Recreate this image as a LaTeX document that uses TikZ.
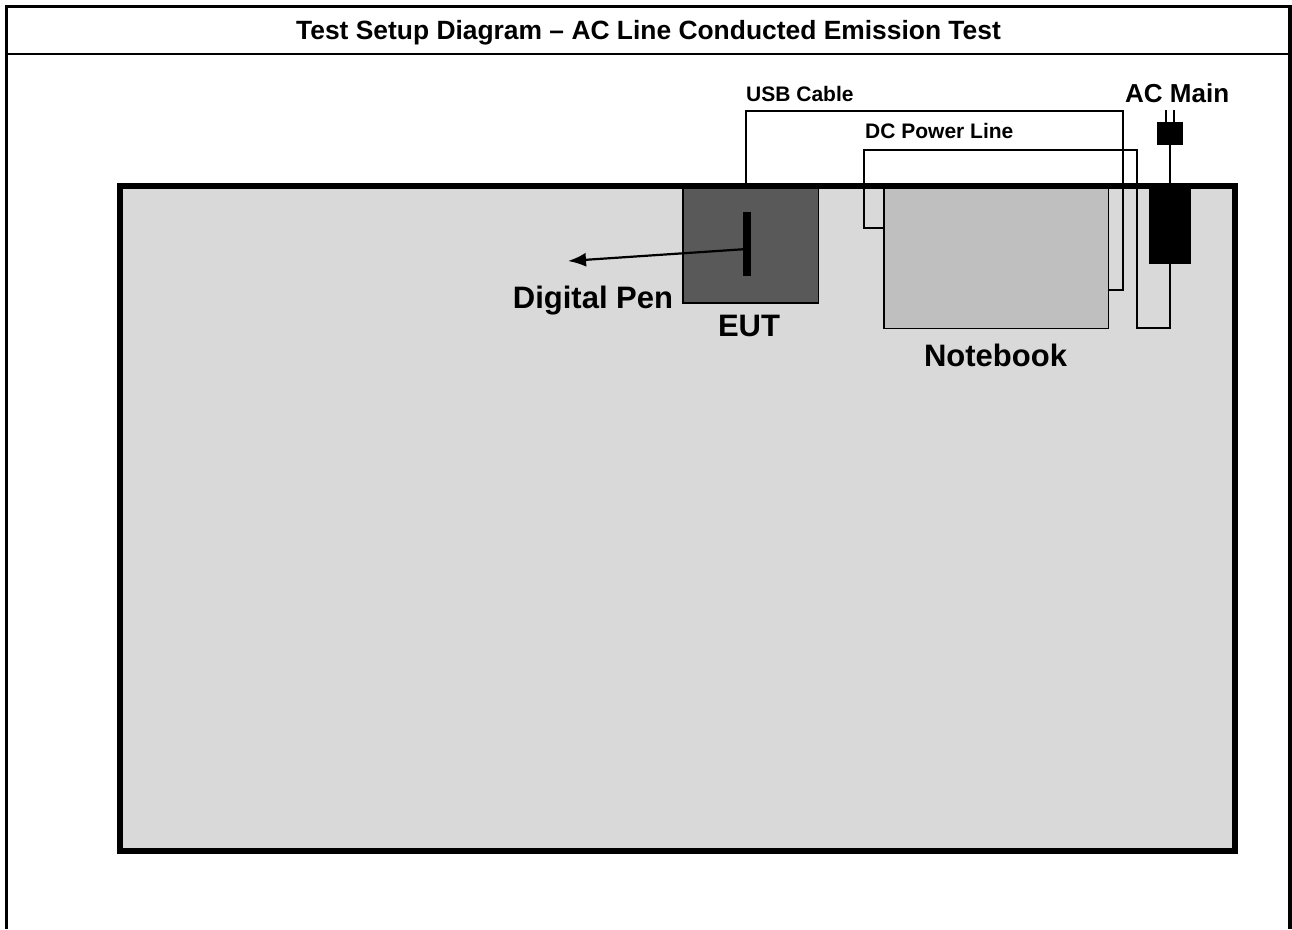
\documentclass[tikz,border=0pt]{standalone}
\usepackage{fontspec}
\setmainfont{Liberation Sans}
\usetikzlibrary{arrows.meta}
\definecolor{tablegray}{HTML}{D9D9D9}
\definecolor{eutgray}{HTML}{595959}
\definecolor{nbgray}{HTML}{BFBFBF}
\begin{document}
\begin{tikzpicture}[x=1pt,y=1pt,
  box/.style={draw=black,line width=1.6pt,inner sep=0pt,outer sep=0pt,rectangle},
  cable/.style={draw=black,line width=1.8pt},
  lbl/.style={inner sep=0pt,font=\bfseries},
  frame/.style={line width=3.5pt}]
\useasboundingbox (0,0) rectangle (1292,-929);
% outer frame
\draw[frame] (6.5,-929) -- (6.5,-6.5) -- (1290,-6.5) -- (1290,-929);
\draw[line width=2.5pt] (6.5,-54) -- (1290,-54);
\node[lbl,anchor=base] (title) at (648.5,-39.3) {\fontsize{26.4}{26.4}\selectfont Test Setup Diagram – AC Line Conducted Emission Test};
% table
\node[fill=tablegray,draw=none,inner sep=0pt,outer sep=0pt,minimum width=1114.5pt,minimum height=664.5pt,anchor=north west] (table) at (120,-186) {};
% cable bends
\coordinate (usb1) at (745.7,-111);
\coordinate (usb2) at (1123.3,-111);
\coordinate (usb3) at (1123.3,-290);
\coordinate (dc0) at (864.3,-228.3);
\coordinate (dc1) at (1136.7,-150);
\coordinate (dc2) at (1136.7,-328.3);
% devices
\node[box,fill=eutgray,minimum width=135.6pt,minimum height=116.7pt,anchor=north west] (eut) at (682.7,-186) {};
\node[box,fill=nbgray,minimum width=224.3pt,minimum height=142.3pt,anchor=north west] (notebook) at (884,-186) {};
\node[box,fill=black,minimum width=40pt,minimum height=76.7pt,anchor=north west] (plug) at (1150,-186) {};
\node[box,fill=black,minimum width=24pt,minimum height=21.7pt,anchor=north west] (acplug) at (1158,-122.3) {};
\draw[cable] (eut.north -| usb1) -- (usb1) -- (usb2) -- (usb3) -- (notebook.east |- usb3);
\draw[cable] (notebook.west |- dc0) -- (dc0) |- (dc1) -- (dc2) -| (plug.south);
\draw[cable] (plug.north) -- (acplug.south);
\draw[line width=1.8pt] ([xshift=-3.7pt]acplug.north) -- ++(0,12);
\draw[line width=1.8pt] ([xshift=3.7pt]acplug.north) -- ++(0,12);
% table border on top
\draw[line width=6pt] (table.north west) rectangle (table.south east);
% pen
\node[fill=black,inner sep=0pt,minimum width=7.5pt,minimum height=64pt] (pen) at (747,-244) {};
\coordinate (penend) at (568,-261);
\draw[line width=2.2pt,-{Latex[length=18pt,width=14pt]}] ([yshift=-5pt]pen.center) -- (penend);
% labels
\node[lbl,anchor=base] (penlbl) at (593,-308) {\fontsize{31}{31}\selectfont Digital Pen};
\node[lbl,anchor=base] (eutlbl) at (749,-336.7) {\fontsize{31}{31}\selectfont EUT};
\node[lbl,anchor=base] (nblbl) at (995.5,-366.7) {\fontsize{31}{31}\selectfont Notebook};
\node[lbl,anchor=base west] (usblbl) at (746,-101.7) {\fontsize{21}{21}\selectfont USB Cable};
\node[lbl,anchor=base west] (dclbl) at (865,-138.3) {\fontsize{21}{21}\selectfont DC Power Line};
\node[lbl,anchor=base west] (aclbl) at (1125,-102.3) {\fontsize{26}{26}\selectfont AC Main};
\end{tikzpicture}
\end{document}
